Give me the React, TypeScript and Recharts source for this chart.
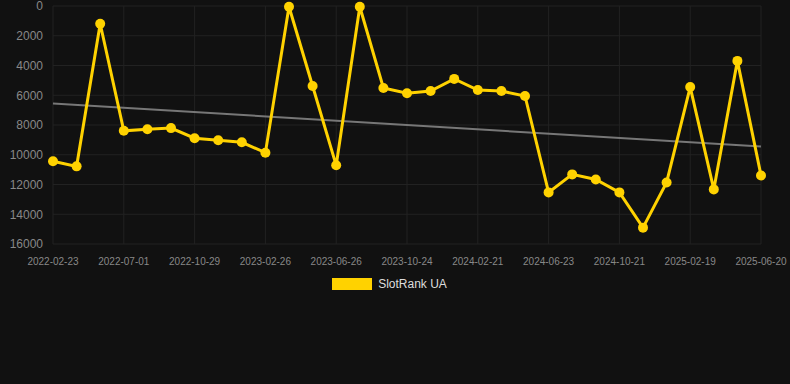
import React from "react";
import { LineChart, Line, XAxis, YAxis, CartesianGrid, Legend } from "recharts";

// one observation roughly every 40 days
const dates = [
  "2022-02-23", "2022-04-04", "2022-05-19", "2022-07-01", "2022-08-10",
  "2022-09-19", "2022-10-29", "2022-12-08", "2023-01-17", "2023-02-26",
  "2023-04-07", "2023-05-17", "2023-06-26", "2023-08-05", "2023-09-14",
  "2023-10-24", "2023-12-03", "2024-01-12", "2024-02-21", "2024-04-01",
  "2024-05-12", "2024-06-23", "2024-08-02", "2024-09-11", "2024-10-21",
  "2024-11-30", "2025-01-09", "2025-02-19", "2025-03-31", "2025-05-10",
  "2025-06-20",
];

const rank = [
  10440, 10780, 1190, 8390, 8280, 8210, 8890, 9020, 9160, 9860,
  50, 5380, 10710, 50, 5510, 5870, 5720, 4900, 5650, 5720,
  6050, 12530, 11320, 11660, 12530, 14900, 11860, 5450, 12330, 3690,
  11390,
];

// trend line end points
const trendStart = 6550;
const trendEnd = 9450;

const yTicks = [0, 2000, 4000, 6000, 8000, 10000, 12000, 14000, 16000];

const data = dates.map((d, i) => ({
  date: d,
  rank: rank[i],
  trend: i === 0 ? trendStart : i === dates.length - 1 ? trendEnd : null,
}));

const YELLOW = "#FFD200";
const font = "'Liberation Sans', Arial, sans-serif";

function LegendBox() {
  return (
    <div
      style={{
        display: "flex",
        justifyContent: "center",
        alignItems: "center",
        fontFamily: font,
        position: "relative",
        left: 9,
      }}
    >
      <span style={{ display: "inline-block", width: 40, height: 12, background: YELLOW, marginRight: 6 }} />
      <span style={{ color: "#dddddd", fontSize: 12 }}>SlotRank UA</span>
    </div>
  );
}

export default function App() {
  return (
    <div style={{ position: "fixed", left: 0, top: 0, width: 790, height: 384, background: "#111111" }}>
      <LineChart width={790} height={384} data={data} margin={{ top: 6, right: 29, left: 0, bottom: 96 }}>
        <CartesianGrid stroke="#222222" strokeWidth={1} />
        <XAxis
          dataKey="date"
          interval={2}
          tickLine={false}
          axisLine={false}
          tick={{ fill: "#888888", fontSize: 10, fontFamily: font }}
          tickMargin={8}
          padding={{ left: 0, right: 0 }}
        />
        <YAxis
          reversed
          domain={[0, 16000]}
          ticks={yTicks}
          interval={0}
          width={53}
          tickLine={false}
          axisLine={false}
          tick={{ fill: "#888888", fontSize: 12, fontFamily: font }}
          tickMargin={4}
        />
        <Legend verticalAlign="bottom" wrapperStyle={{ top: 277 }} content={() => <LegendBox />} />
        <Line
          dataKey="trend"
          stroke="#777777"
          strokeWidth={2}
          dot={false}
          connectNulls
          isAnimationActive={false}
          legendType="none"
        />
        <Line
          dataKey="rank"
          name="SlotRank UA"
          stroke={YELLOW}
          strokeWidth={3}
          dot={{ r: 5, fill: YELLOW, stroke: YELLOW, strokeWidth: 0 }}
          activeDot={false}
          isAnimationActive={false}
        />
      </LineChart>
    </div>
  );
}
